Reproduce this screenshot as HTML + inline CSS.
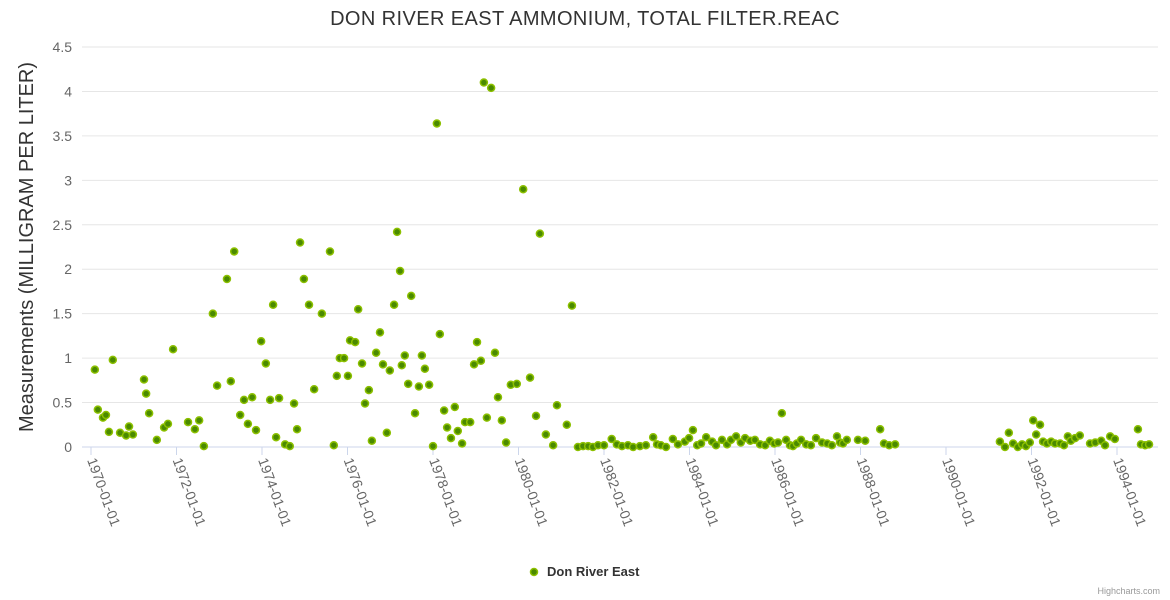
<!DOCTYPE html>
<html><head><meta charset="utf-8">
<style>
body{margin:0;background:#fff;}
svg{display:block;font-family:"Liberation Sans",sans-serif;}
</style></head>
<body>
<svg id="chart" width="1170" height="600">
<text x="585" y="25" text-anchor="middle" font-size="20" letter-spacing="0.4" fill="#333">DON RIVER EAST AMMONIUM, TOTAL FILTER.REAC</text>
<g id="grid"></g>
<g id="yaxis"></g>
<text transform="translate(33,247) rotate(-90)" text-anchor="middle" font-size="20" fill="#333">Measurements (MILLIGRAM PER LITER)</text>
<g id="xaxis"></g>
<g id="points"></g>
<g>
<circle cx="534" cy="572" r="3.5" fill="#4a8a00" stroke="#8cc000" stroke-width="1.5"></circle>
<text x="547" y="576" font-size="13" font-weight="bold" fill="#333">Don River East</text>
</g>
<text x="1160" y="594" text-anchor="end" font-size="9" fill="#999">Highcharts.com</text>
</svg>
<script>
const yTicks = [0,0.5,1,1.5,2,2.5,3,3.5,4,4.5];
const yTickLabels = ["0","0.5","1","1.5","2","2.5","3","3.5","4","4.5"];
const xTickYears = [1970,1972,1974,1976,1978,1980,1982,1984,1986,1988,1990,1992,1994];
const xTickLabels = ["1970-01-01","1972-01-01","1974-01-01","1976-01-01","1978-01-01","1980-01-01","1982-01-01","1984-01-01","1986-01-01","1988-01-01","1990-01-01","1992-01-01","1994-01-01"];
const earlyYears = [0.09,0.16,0.28,0.35,0.42,0.51,0.68,0.82,0.89,0.98,1.24,1.29,1.36,1.54,1.71,1.80,1.92,2.27,2.43,2.53,2.64,2.85,2.95,3.18,3.27,3.35,3.49,3.58,3.67,3.77,3.86,3.98,4.09,4.19,4.26,4.33,4.40,4.54,4.65,4.75,4.82,4.89,4.98,5.10,5.22,5.40,5.59,5.68,5.75,5.82,5.92,6.01,6.06,6.18,6.25,6.34,6.41,6.50,6.57,6.67,6.76,6.83,6.92,6.99,7.09,7.16,7.23,7.27,7.34,7.42,7.49,7.58,7.67,7.74,7.81,7.91,8.00,8.09,8.16,8.26,8.33,8.42,8.51,8.58,8.68,8.75,8.87,8.96,9.03,9.12,9.19,9.26,9.36,9.45,9.52,9.61,9.71,9.82,9.96,10.11,10.27,10.41,10.50,10.64,10.81,10.90,11.13,11.25];
const earlyValues = [0.87,0.42,0.33,0.36,0.17,0.98,0.16,0.13,0.23,0.14,0.76,0.60,0.38,0.08,0.22,0.26,1.10,0.28,0.20,0.30,0.01,1.50,0.69,1.89,0.74,2.20,0.36,0.53,0.26,0.56,0.19,1.19,0.94,0.53,1.60,0.11,0.55,0.03,0.01,0.49,0.20,2.30,1.89,1.60,0.65,1.50,2.20,0.02,0.80,1.00,1.00,0.80,1.20,1.18,1.55,0.94,0.49,0.64,0.07,1.06,1.29,0.93,0.16,0.86,1.60,2.42,1.98,0.92,1.03,0.71,1.70,0.38,0.68,1.03,0.88,0.70,0.01,3.64,1.27,0.41,0.22,0.10,0.45,0.18,0.04,0.28,0.28,0.93,1.18,0.97,4.10,0.33,4.04,1.06,0.56,0.30,0.05,0.70,0.71,2.90,0.78,0.35,2.40,0.14,0.02,0.47,0.25,1.59];
const midYears = [11.39,11.51,11.63,11.74,11.86,12.00,12.18,12.30,12.42,12.56,12.68,12.84,12.98,13.15,13.24,13.33,13.45,13.61,13.73,13.89,13.99,14.08,14.18,14.27,14.39,14.53,14.62,14.76,14.88,14.97,15.09,15.20,15.30,15.42,15.53,15.65,15.77,15.88,15.98,16.07,16.16,16.26,16.35,16.42,16.51,16.61,16.73,16.84,16.96,17.10,17.22,17.33,17.45,17.52,17.59,17.68,17.94,18.11,18.46,18.55,18.67,18.81];
const midValues = [0.00,0.01,0.01,0.00,0.02,0.02,0.09,0.03,0.01,0.02,0.00,0.01,0.02,0.11,0.03,0.02,0.00,0.09,0.03,0.06,0.10,0.19,0.02,0.04,0.11,0.06,0.02,0.08,0.03,0.08,0.12,0.05,0.10,0.07,0.08,0.03,0.02,0.07,0.04,0.05,0.38,0.08,0.02,0.01,0.04,0.08,0.03,0.02,0.10,0.05,0.04,0.02,0.12,0.05,0.04,0.08,0.08,0.07,0.20,0.04,0.02,0.03];
const lateYears = [21.26,21.38,21.47,21.57,21.68,21.78,21.87,21.96,22.04,22.11,22.20,22.27,22.36,22.46,22.55,22.67,22.76,22.85,22.92,23.02,23.13,23.37,23.49,23.63,23.72,23.84,23.95,24.49,24.56,24.66,24.75];
const lateValues = [0.06,0.00,0.16,0.04,0.00,0.03,0.01,0.05,0.30,0.14,0.25,0.06,0.04,0.06,0.04,0.04,0.02,0.12,0.07,0.10,0.13,0.04,0.05,0.07,0.02,0.12,0.09,0.20,0.03,0.02,0.03];

const NS = "http://www.w3.org/2000/svg";
const plotLeft = 82, plotRight = 1158, plotTop = 47, plotBottom = 447;
const yMax = 4.5;
function yScale(v){ return plotBottom - (v / yMax) * (plotBottom - plotTop); }
function xScale(yr){ return 91 + (yr - 1970) * 42.75; }
function mk(tag, attrs, parent){ const e = document.createElementNS(NS, tag); for (const k in attrs) e.setAttribute(k, attrs[k]); parent.appendChild(e); return e; }

const grid = document.getElementById('grid');
const yaxis = document.getElementById('yaxis');
yTicks.forEach((t, i) => {
  const y = yScale(t);
  const ln = mk('line', {x1: plotLeft, x2: plotRight, y1: y, y2: y, stroke: t === 0 ? '#ccd6eb' : '#e6e6e6', 'stroke-width': 1}, grid);
  
  
  const tx = mk('text', {x: 72, y: y + 5, 'text-anchor': 'end', 'font-size': 14, fill: '#666'}, yaxis);
  tx.textContent = yTickLabels[i];
  
  
});

const xaxis = document.getElementById('xaxis');
xTickYears.forEach((yr, i) => {
  const x = xScale(yr);
  const tk = mk('line', {x1: x, x2: x, y1: plotBottom, y2: plotBottom + 8, stroke: '#ccd6eb', 'stroke-width': 1}, xaxis);
  
  
  const tx = mk('text', {transform: `translate(${x - 4},${plotBottom + 13}) rotate(70)`, 'font-size': 14, fill: '#666'}, xaxis);
  tx.textContent = xTickLabels[i];
  
  
});

const pts = document.getElementById('points');
function drawSeries(years, values){
  years.forEach((yr, i) => {
    const c = mk('circle', {cx: xScale(1970 + yr), cy: yScale(values[i]), r: 3.5, fill: '#4a8a00', stroke: '#8cc000', 'stroke-width': 1.5}, pts);
    
    
  });
}
drawSeries(earlyYears, earlyValues);
drawSeries(midYears, midValues);
drawSeries(lateYears, lateValues);
</script>
</body></html>
